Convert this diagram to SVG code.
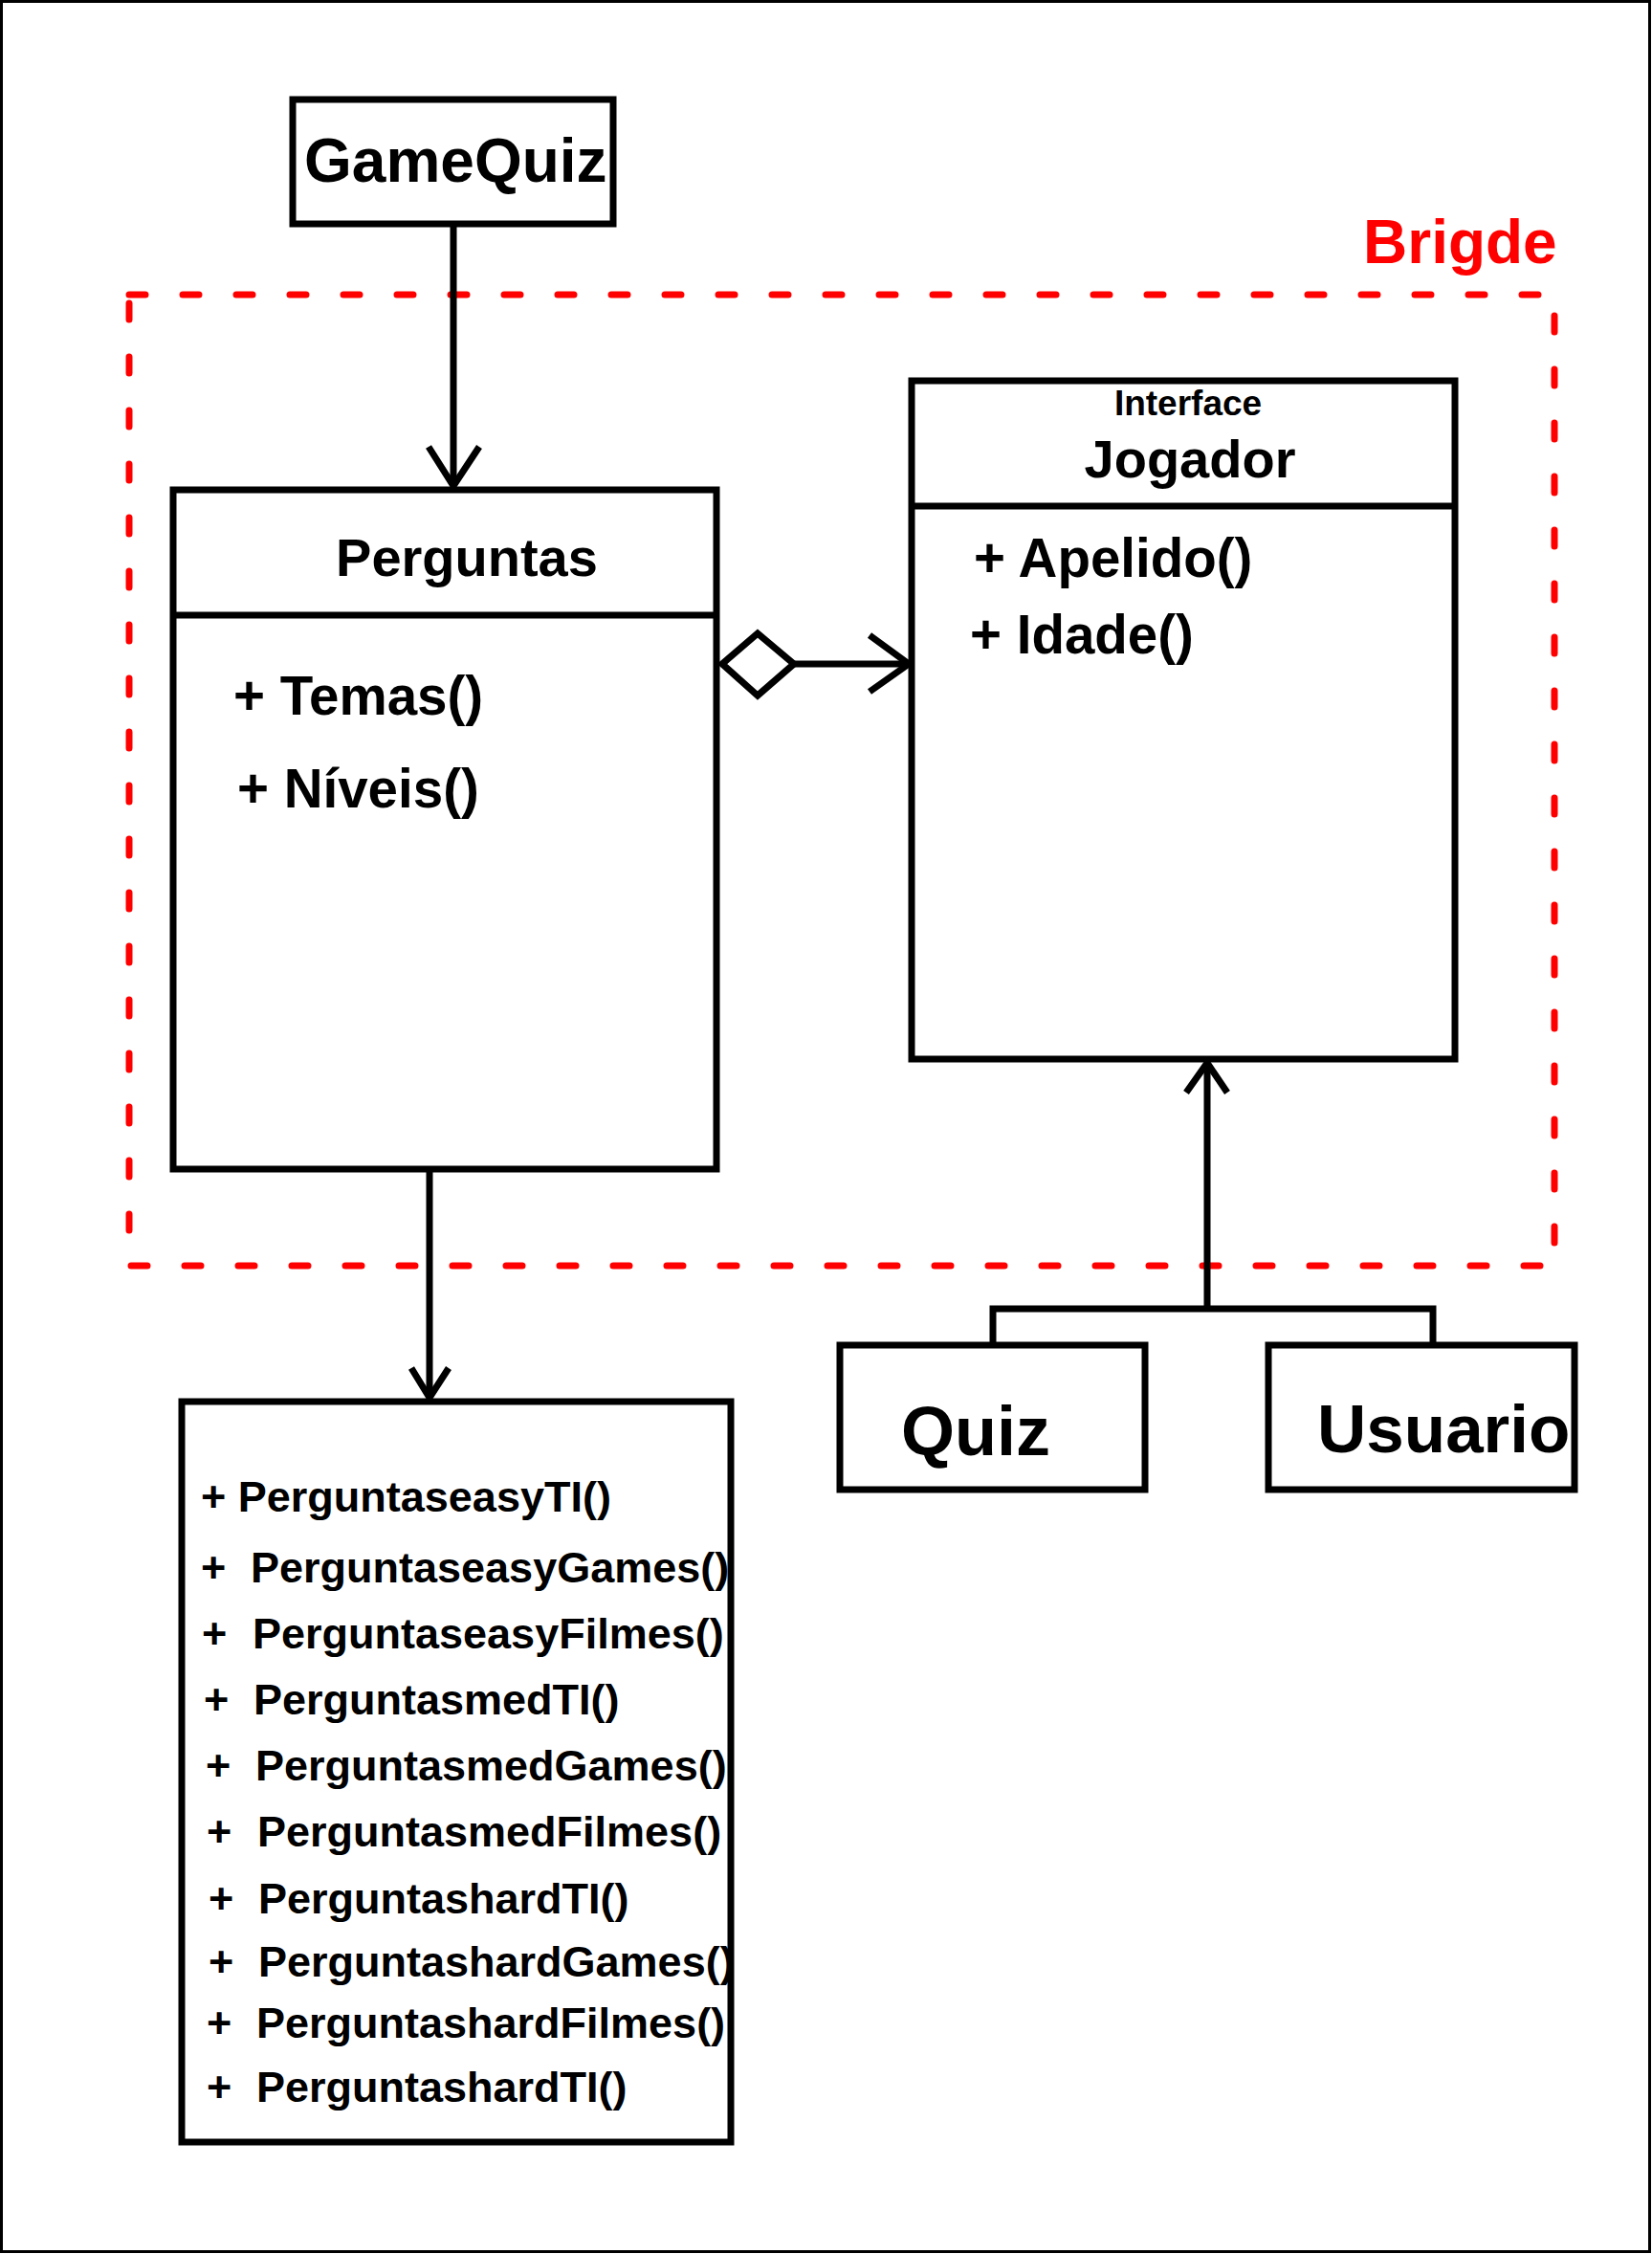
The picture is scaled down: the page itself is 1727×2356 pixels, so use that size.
<svg xmlns="http://www.w3.org/2000/svg" width="1727" height="2356" viewBox="0 0 1727 2356">
<style>
text{font-family:"Liberation Sans",Arial,sans-serif;font-weight:bold;fill:#000}
.box{fill:#fff;stroke:#000;stroke-width:7}
.ln{fill:none;stroke:#000;stroke-width:7}
.m{font-size:45px}
.a{font-size:56.5px}
</style>
<rect x="1.5" y="1.5" width="1723" height="2352" fill="#fff" stroke="#000" stroke-width="3"/>
<g id="bridge">
<rect x="135" y="308" width="1490" height="1015" fill="none" stroke="#ff0000" stroke-width="7" stroke-dasharray="17 39" stroke-linecap="round"/>
<text x="1425" y="275" font-size="64" style="fill:#ff0000">Brigde</text>
</g>
<g id="connectors">
<line class="ln" x1="474" y1="234" x2="474" y2="508"/>
<polyline class="ln" points="448,467 474,508 501,467"/>
<line class="ln" x1="830" y1="694" x2="950" y2="694"/>
<polygon points="755,694 792,662 830,694 792,727" fill="#fff" stroke="#000" stroke-width="7"/>
<polyline class="ln" points="909,664 950,694 909,723"/>
<line class="ln" x1="449" y1="1222" x2="449" y2="1461"/>
<polyline class="ln" points="430,1430 449,1461 469,1430"/>
<line class="ln" x1="1262" y1="1111" x2="1262" y2="1368"/>
<polyline class="ln" points="1240,1142 1262,1111 1283,1142"/>
<polyline class="ln" points="1038,1406 1038,1368 1498,1368 1498,1406"/>
</g>
<g id="gamequiz">
<rect class="box" x="306" y="104" width="335" height="130"/>
<text x="318" y="190" font-size="64">GameQuiz</text>
</g>
<g id="perguntas">
<rect class="box" x="181" y="512" width="568" height="710"/>
<line class="ln" x1="181" y1="643" x2="749" y2="643"/>
<text x="488" y="602" font-size="56" text-anchor="middle">Perguntas</text>
<text class="a" x="244" y="747">+ Temas()</text>
<text class="a" x="248" y="844">+ Níveis()</text>
</g>
<g id="jogador">
<rect class="box" x="953" y="398" width="568" height="709"/>
<line class="ln" x1="953" y1="529" x2="1521" y2="529"/>
<text x="1242" y="434" font-size="37" text-anchor="middle">Interface</text>
<text x="1244" y="499" font-size="56" text-anchor="middle">Jogador</text>
<text class="a" x="1018" y="603">+ Apelido()</text>
<text class="a" x="1014" y="683">+ Idade()</text>
</g>
<g id="metodos">
<rect class="box" x="190" y="1465" width="574" height="774"/>
<text class="m" x="210" y="1580">+ PerguntaseasyTI()</text>
<text class="m" y="1654"><tspan x="210">+</tspan><tspan x="262">PerguntaseasyGames()</tspan></text>
<text class="m" y="1723"><tspan x="211">+</tspan><tspan x="264">PerguntaseasyFilmes()</tspan></text>
<text class="m" y="1792"><tspan x="213">+</tspan><tspan x="265">PerguntasmedTI()</tspan></text>
<text class="m" y="1861"><tspan x="215">+</tspan><tspan x="267">PerguntasmedGames()</tspan></text>
<text class="m" y="1930"><tspan x="216">+</tspan><tspan x="269">PerguntasmedFilmes()</tspan></text>
<text class="m" y="2000"><tspan x="218">+</tspan><tspan x="270">PerguntashardTI()</tspan></text>
<text class="m" y="2066"><tspan x="218">+</tspan><tspan x="270">PerguntashardGames()</tspan></text>
<text class="m" y="2130"><tspan x="216">+</tspan><tspan x="268">PerguntashardFilmes()</tspan></text>
<text class="m" y="2197"><tspan x="216">+</tspan><tspan x="268">PerguntashardTI()</tspan></text>
</g>
<g id="quiz">
<rect class="box" x="878" y="1406" width="319" height="151"/>
<text x="942" y="1521" font-size="72">Quiz</text>
</g>
<g id="usuario">
<rect class="box" x="1326" y="1406" width="320" height="151"/>
<text x="1377" y="1518" font-size="71">Usuario</text>
</g>
</svg>
